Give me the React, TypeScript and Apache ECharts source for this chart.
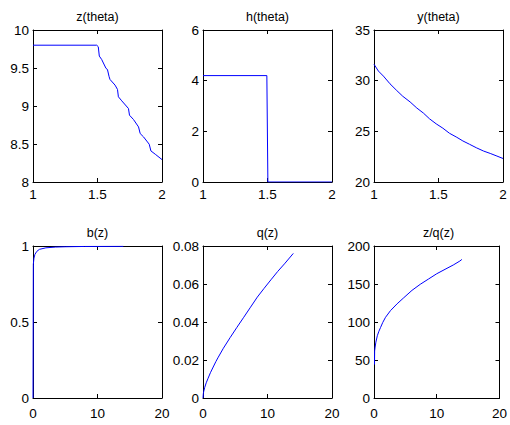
import React, { useEffect, useRef } from "react";
import * as echarts from "echarts";

// ---- data ----
const titles = ["z(theta)", "h(theta)", "y(theta)", "b(z)", "q(z)", "z/q(z)"];

const zTheta: [number, number][] = [
  [1.0, 9.8], [1.494, 9.8], [1.506, 9.78], [1.514, 9.657], [1.532, 9.613],
  [1.566, 9.495], [1.577, 9.481], [1.59, 9.385], [1.597, 9.349], [1.636, 9.275],
  [1.655, 9.218], [1.662, 9.121], [1.688, 9.068], [1.74, 8.967], [1.748, 8.879],
  [1.779, 8.822], [1.818, 8.725], [1.831, 8.637], [1.857, 8.593], [1.901, 8.497],
  [1.914, 8.409], [1.948, 8.365], [2.0, 8.295],
];

const hTheta: [number, number][] = [
  [1.0, 4.2], [1.495, 4.2], [1.503, 0], [2.0, 0],
];

const yTheta: [number, number][] = [
  [1.0, 31.62], [1.034, 30.95], [1.073, 30.45], [1.124, 29.69], [1.176, 29.03],
  [1.223, 28.46], [1.28, 27.9], [1.332, 27.3], [1.383, 26.8], [1.43, 26.24],
  [1.482, 25.74], [1.534, 25.31], [1.585, 24.81], [1.642, 24.41], [1.689, 24.05],
  [1.741, 23.72], [1.793, 23.38], [1.85, 23.05], [1.901, 22.82], [1.953, 22.56],
  [2.0, 22.32],
];

const bZ: [number, number][] = [
  [0, 0], [0.05, 0.88], [0.15, 0.92], [0.3, 0.945], [0.6, 0.965], [1.0, 0.978],
  [2.0, 0.988], [3.5, 0.993], [5.0, 0.995], [8.0, 0.997], [14.0, 0.998],
];

const qZ: [number, number][] = [
  [0, 0], [0.05, 0.0022], [0.12, 0.0036], [0.26, 0.0055], [0.5, 0.0080],
  [0.79, 0.0104], [1.15, 0.0133], [1.58, 0.0163], [2.0, 0.0192], [2.37, 0.0215],
  [3.16, 0.0262], [4.21, 0.0318], [5.26, 0.0372], [6.32, 0.0425], [7.37, 0.0478],
  [8.42, 0.0531], [9.47, 0.0577], [10.53, 0.0622], [11.58, 0.0666], [12.63, 0.0706],
  [14.0, 0.0761],
];

const zqZ: [number, number][] = [
  [0.08, 44.0], [0.1, 61.9], [0.18, 67.0], [0.3, 73.5], [0.53, 81.9], [0.78, 87.8],
  [1.05, 92.9], [1.4, 99.5], [1.84, 106.2], [2.63, 115.0], [3.68, 123.9],
  [4.74, 131.9], [6.05, 141.6], [7.37, 149.6], [8.68, 156.5], [10.0, 163.5],
  [11.32, 169.3], [12.63, 175.0], [13.68, 180.2], [14.0, 182.3],
];

const seriesData = [zTheta, hTheta, yTheta, bZ, qZ, zqZ];

// axis ranges: [min, max, interval]
const xRanges: [number, number, number][] = [
  [1, 2, 0.5], [1, 2, 0.5], [1, 2, 0.5],
  [0, 20, 10], [0, 20, 10], [0, 20, 10],
];
const yRanges: [number, number, number][] = [
  [8, 10, 0.5], [0, 6, 2], [20, 35, 5],
  [0, 1, 0.5], [0, 0.08, 0.02], [0, 200, 50],
];

export default function App() {
  const ref = useRef<HTMLDivElement>(null);

  useEffect(() => {
    if (!ref.current) return;
    const chart = echarts.init(ref.current, undefined, { renderer: "svg" });

    const FONT = '"Liberation Sans", Arial, Helvetica, sans-serif';
    const lefts = [33, 203, 374];
    const tops = [30, 246];
    const W = 129;
    const H = 152;
    const xLabelMargins = [5, 8];

    const grids: any[] = [];
    const xAxes: any[] = [];
    const yAxes: any[] = [];
    const series: any[] = [];
    const graphics: any[] = [];

    const lineStyle = { color: "#000", width: 1 };

    for (let i = 0; i < 6; i++) {
      const col = i % 3;
      const row = Math.floor(i / 3);
      grids.push({ left: lefts[col], top: tops[row], width: W, height: H, containLabel: false });
    }
    // bottom x axes (with labels)
    for (let i = 0; i < 6; i++) {
      const [mn, mx, iv] = xRanges[i];
      const row = Math.floor(i / 3);
      xAxes.push({
        type: "value", gridIndex: i, position: "bottom", min: mn, max: mx, interval: iv,
        axisLine: { show: true, onZero: false, lineStyle },
        axisTick: { show: true, inside: true, length: 4, lineStyle },
        axisLabel: { show: true, color: "#000", fontSize: 13.5, fontFamily: FONT, margin: xLabelMargins[row] },
        splitLine: { show: false },
      });
    }
    // top x axes (box + ticks)
    for (let i = 0; i < 6; i++) {
      const [mn, mx, iv] = xRanges[i];
      xAxes.push({
        type: "value", gridIndex: i, position: "top", min: mn, max: mx, interval: iv,
        axisLine: { show: true, onZero: false, lineStyle },
        axisTick: { show: true, inside: true, length: 4, lineStyle },
        axisLabel: { show: false },
        splitLine: { show: false },
      });
    }
    // left y axes
    for (let i = 0; i < 6; i++) {
      const [mn, mx, iv] = yRanges[i];
      yAxes.push({
        type: "value", gridIndex: i, position: "left", min: mn, max: mx, interval: iv,
        axisLine: { show: true, onZero: false, lineStyle },
        axisTick: { show: true, inside: true, length: 4, lineStyle },
        axisLabel: { show: true, color: "#000", fontSize: 13.5, fontFamily: FONT, margin: 4 },
        splitLine: { show: false },
      });
    }
    // right y axes
    for (let i = 0; i < 6; i++) {
      const [mn, mx, iv] = yRanges[i];
      yAxes.push({
        type: "value", gridIndex: i, position: "right", min: mn, max: mx, interval: iv,
        axisLine: { show: true, onZero: false, lineStyle },
        axisTick: { show: true, inside: true, length: 4, lineStyle },
        axisLabel: { show: false },
        splitLine: { show: false },
      });
    }

    for (let i = 0; i < 6; i++) {
      series.push({
        type: "line",
        xAxisIndex: i,
        yAxisIndex: i,
        data: seriesData[i],
        showSymbol: false,
        symbol: "none",
        lineStyle: { color: "#0000ff", width: 1 },
        clip: true,
      });
      const col = i % 3;
      const row = Math.floor(i / 3);
      graphics.push({
        type: "text",
        x: lefts[col] + W / 2,
        y: tops[row] - 13,
        style: {
          text: titles[i],
          fill: "#000",
          font: `12.5px ${FONT}`,
          textAlign: "center",
          textVerticalAlign: "middle",
        },
      });
    }

    chart.setOption({
      animation: false,
      backgroundColor: "#fff",
      grid: grids,
      xAxis: xAxes,
      yAxis: yAxes,
      series,
      graphic: graphics,
    });

    return () => chart.dispose();
  }, []);

  return (
    <div
      ref={ref}
      style={{ position: "fixed", left: 0, top: 0, width: 510, height: 425, background: "#fff" }}
    />
  );
}
